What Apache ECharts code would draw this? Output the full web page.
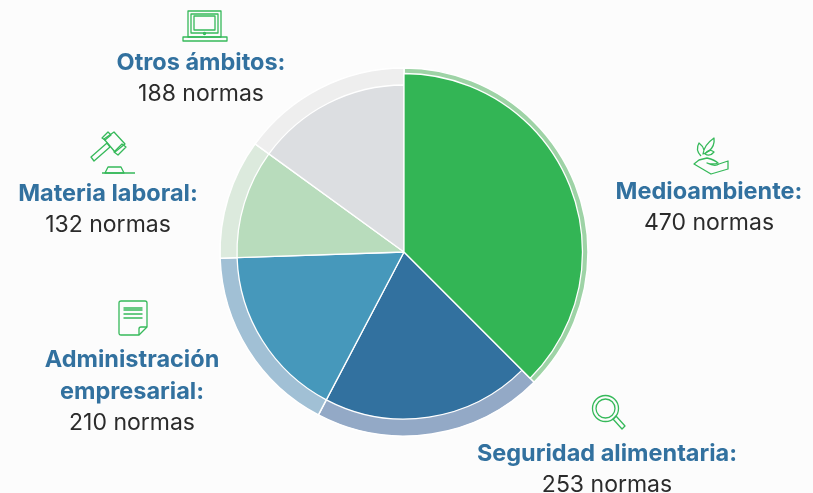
<!DOCTYPE html>
<html>
<head>
<meta charset="utf-8">
<style>
  html, body { margin: 0; padding: 0; background: #fcfcfc; }
  #chart { width: 813px; height: 493px; }
</style>
<script src="https://cdn.jsdelivr.net/npm/echarts@6/dist/echarts.min.js"></script>
</head>
<body>
<div id="chart"></div>
<script>
const categories = ['Medioambiente', 'Seguridad alimentaria', 'Administración empresarial', 'Materia laboral', 'Otros ámbitos'];
const normas = [470, 253, 210, 132, 188];
const sliceColors = ['#33b555', '#32719f', '#4698bb', '#b8dcbc', '#dcdee1'];
const ringColors = ['#9ed3a6', '#93a9c6', '#a1c0d5', '#dceadd', '#eeeeee'];
const titleLines = [['Medioambiente:'], ['Seguridad alimentaria:'], ['Administración', 'empresarial:'], ['Materia laboral:'], ['Otros ámbitos:']];

// centre of each text block
const labelPos = [[709, 207], [607, 469], [132, 391], [108, 209], [201, 78]];

const center = [404, 252];
const iconGreen = '#36b95a';

const chart = echarts.init(document.getElementById('chart'));

// line icons, the graphic component has no plain path type so they go in as svg images
function icon(left, top, w, h, inner) {
  const svg = '<svg xmlns="http://www.w3.org/2000/svg" width="' + w + '" height="' + h + '" viewBox="0 0 ' + w + ' ' + h + '">' +
    '<g fill="none" stroke="' + iconGreen + '" stroke-width="1.3" stroke-linejoin="round">' + inner + '</g></svg>';
  return {
    type: 'image',
    silent: true,
    x: left,
    y: top,
    style: { image: 'data:image/svg+xml;charset=utf-8,' + encodeURIComponent(svg), width: w, height: h }
  };
}

const icons = [
  // laptop
  icon(182, 9, 46, 34, '<path d="M6 2H39V28H6Z"/><path d="M9 5H36V24H9Z"/><path d="M12 7H33V21H12Z"/><path d="M1 28H45L45 32H1Z"/><circle cx="22.500" cy="24.500" r="1"/>'),
  // gavel
  icon(89, 129, 48, 46, '<path d="M2 28L18 14L21 18L5 32Z"/><path d="M15 10L25 3L36 15L26 23Z"/><path d="M13 9L19 3L22 6L16 11Z"/><path d="M25 23L33 15L37 18L29 26Z"/><path d="M16 44L19 38H32L35 44Z"/><path d="M13 44H46"/>'),
  // document
  icon(118, 300, 30, 36, '<path d="M3 1H27Q29 1 29 3V27L21 35H3Q1 35 1 33V3Q1 1 3 1Z"/><path d="M21 35V29Q21 27 23 27H29"/><path d="M5.500 8H24.500M5.500 10H24.500M5.500 14H24.500M5.500 18H24.500"/>'),
  // hand with plant
  icon(691, 136, 40, 40, '<path d="M8 24L16 22Q24 24 27 27Q22 29 16 27Q24 31 28 28L37 25L37 33L20 38L3 28Z"/><path d="M12 18Q13 9 23 2Q24 10 18 15Q15 17 12 18Z"/><path d="M10 20Q4 14 8 7Q12 10 13 14"/><path d="M14 18Q18 12 23 16Q19 21 14 18Z"/>'),
  // magnifier
  icon(591, 394, 36, 36, '<circle cx="14.500" cy="14.500" r="13"/><circle cx="14.500" cy="14.500" r="9.500"/><path d="M22 25L25 22L34 32L31 35Z"/>')
];

const option = {
  backgroundColor: '#fcfcfc',
  animation: false,
  graphic: { elements: icons },
  series: [
    {
      name: 'anillo',
      type: 'pie',
      center: center,
      radius: [0, 184],
      startAngle: 90,
      silent: true,
      label: { show: false },
      labelLine: { show: false },
      itemStyle: { borderColor: '#ffffff', borderWidth: 1.5 },
      data: categories.map((name, i) => ({
        name: name,
        value: normas[i],
        itemStyle: { color: ringColors[i] }
      }))
    },
    {
      name: 'normas',
      type: 'pie',
      center: center,
      radius: [0, 167],
      startAngle: 90,
      silent: true,
      itemStyle: { borderColor: '#ffffff', borderWidth: 1.3 },
      labelLine: { show: false },
      label: {
        show: true,
        position: 'outside',
        rich: {
          t: { fontFamily: 'Inter', fontWeight: 700, fontSize: 23.5, lineHeight: 32, color: '#32719f', align: 'center' },
          v: { fontFamily: 'Inter', fontWeight: 400, fontSize: 23, lineHeight: 30, color: '#2b2b2b', align: 'center' }
        },
        formatter: (p) => {
          const lines = titleLines[p.dataIndex].map(s => '{t|' + s + '}');
          return lines.join('\n') + '\n{v|' + p.value + ' normas}';
        }
      },
      labelLayout: (p) => ({
        x: labelPos[p.dataIndex][0],
        y: labelPos[p.dataIndex][1],
        align: 'center',
        verticalAlign: 'middle'
      }),
      data: categories.map((name, i) => ({
        name: name,
        value: normas[i],
        itemStyle: { color: sliceColors[i] }
      }))
    },
    {
      // the first slice is bigger than the others
      name: 'destacado',
      type: 'pie',
      center: center,
      radius: [0, 178.5],
      startAngle: 90,
      silent: true,
      label: { show: false },
      labelLine: { show: false },
      data: categories.map((name, i) => ({
        name: name,
        value: normas[i],
        itemStyle: i === 0
          ? { color: sliceColors[0], borderColor: '#ffffff', borderWidth: 1.3 }
          : { color: 'transparent', borderWidth: 0 }
      }))
    }
  ]
};

chart.setOption(option);
</script>
</body>
</html>
